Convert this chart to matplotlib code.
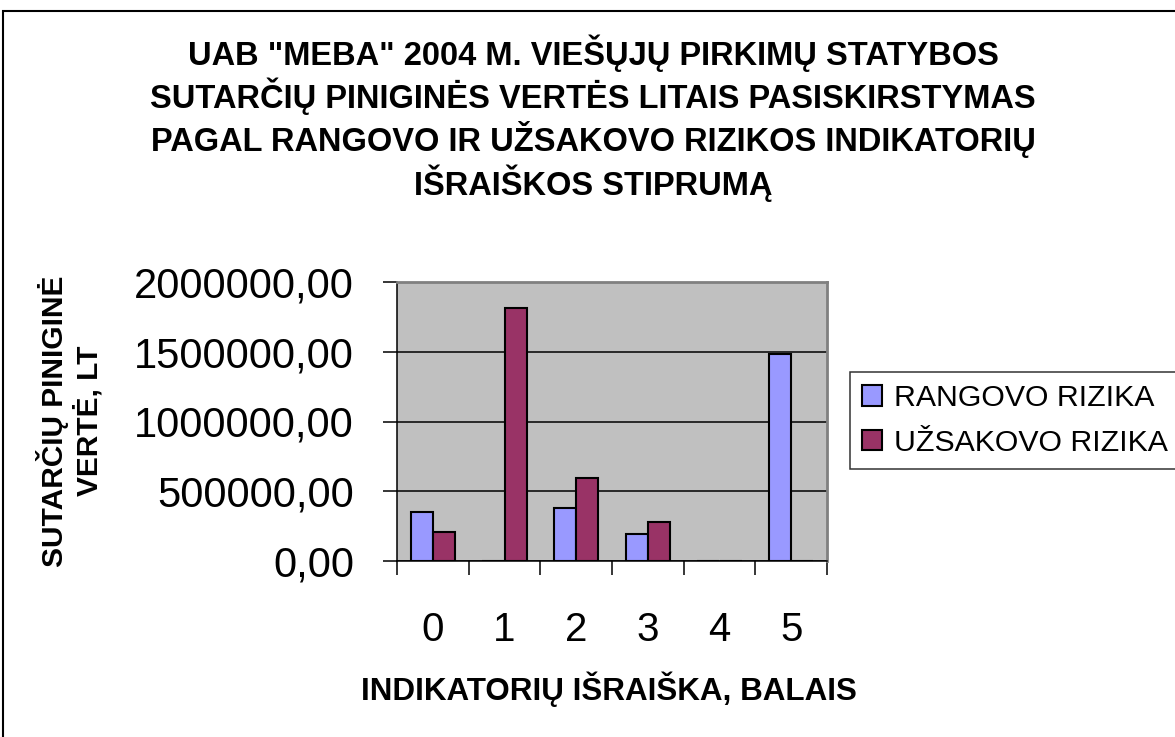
import matplotlib
matplotlib.use('Agg')
import matplotlib.pyplot as plt
import matplotlib.patches as mpatches
from matplotlib.ticker import FuncFormatter, FixedLocator
import numpy as np

plt.rcParams['font.family'] = ['Liberation Sans', 'DejaVu Sans']

title = ('UAB "MEBA" 2004 M. VIEŠŲJŲ PIRKIMŲ STATYBOS\n'
         'SUTARČIŲ PINIGINĖS VERTĖS LITAIS PASISKIRSTYMAS\n'
         'PAGAL RANGOVO IR UŽSAKOVO RIZIKOS INDIKATORIŲ\n'
         'IŠRAIŠKOS STIPRUMĄ')
x_label = 'INDIKATORIŲ IŠRAIŠKA, BALAIS'
y_label = 'SUTARČIŲ PINIGINĖ\nVERTĖ, LT'

categories = ['0', '1', '2', '3', '4', '5']
series_names = ['RANGOVO RIZIKA', 'UŽSAKOVO RIZIKA']
rangovo = [349000, 0, 378000, 191000, 0, 1482000]
uzsakovo = [206000, 1816000, 595000, 277000, 0, 0]
colors = ['#9999FF', '#993366']

fig = plt.figure(figsize=(11.75, 7.37), dpi=100)
ax = fig.add_axes([397 / 1175, 1 - 561 / 737, 430 / 1175, 279 / 737])
ax.set_facecolor('#C0C0C0')

x = np.arange(len(categories))
w = 0.307
ax.bar(x - w / 2, rangovo, w, color=colors[0], edgecolor='black', linewidth=1.5,
       label=series_names[0], zorder=3)
ax.bar(x + w / 2, uzsakovo, w, color=colors[1], edgecolor='black', linewidth=1.5,
       label=series_names[1], zorder=3)

ax.set_xlim(-0.5, len(categories) - 0.5)
ax.set_ylim(0, 2000000)
ax.set_yticks([0, 500000, 1000000, 1500000, 2000000])
ax.yaxis.set_major_formatter(FuncFormatter(lambda v, p: f'{v:.2f}'.replace('.', ',')))
ax.grid(axis='y', color='black', linewidth=1.1, zorder=1)

# ticks between categories, labels at the centres
ax.xaxis.set_major_locator(FixedLocator(np.arange(-0.5, len(categories), 1.0)))
ax.xaxis.set_minor_locator(FixedLocator(x))
ax.set_xticklabels([''] * (len(categories) + 1))
ax.set_xticks(x, categories, minor=True)
ax.tick_params(axis='x', which='major', length=10, width=1.1, color='black', direction='out')
ax.tick_params(axis='x', which='minor', length=0, pad=36, labelsize=29)
ax.tick_params(axis='y', length=10, width=1.1, direction='out', pad=21, labelsize=30)

for s in ['top', 'right']:
    ax.spines[s].set_color('#808080')
    ax.spines[s].set_linewidth(2)
for s in ['left', 'bottom']:
    ax.spines[s].set_color('black')
    ax.spines[s].set_linewidth(1.1)

fig.text(593 / 1175, 1 - 34 / 737, title, ha='center', va='top', fontsize=23.5,
         fontweight='bold', linespacing=1.2)
fig.text(609 / 1175, 1 - 689 / 737, x_label, ha='center', va='center', fontsize=22.6,
         fontweight='bold')
fig.text(70 / 1175, 1 - 421 / 737, y_label, ha='center', va='center', fontsize=21.5,
         fontweight='bold', rotation=90, linespacing=1.22)

leg = fig.legend(loc='upper left', bbox_to_anchor=(850 / 1175, 1 - 372 / 737),
                 fontsize=21.8, frameon=True, fancybox=False, shadow=False,
                 handlelength=0.65, handleheight=0.65, handletextpad=0.4,
                 labelspacing=0.55, borderpad=0.4, borderaxespad=0)
leg.get_frame().set_edgecolor('black')
leg.get_frame().set_linewidth(1.1)

# chart area border
fig.patches.append(mpatches.Rectangle((3 / 1175, -0.1), 1.2, 1 - 11 / 737 + 0.1,
                                      transform=fig.transFigure, fill=False,
                                      edgecolor='black', linewidth=1.5))

fig.savefig('out.png', dpi=100)
